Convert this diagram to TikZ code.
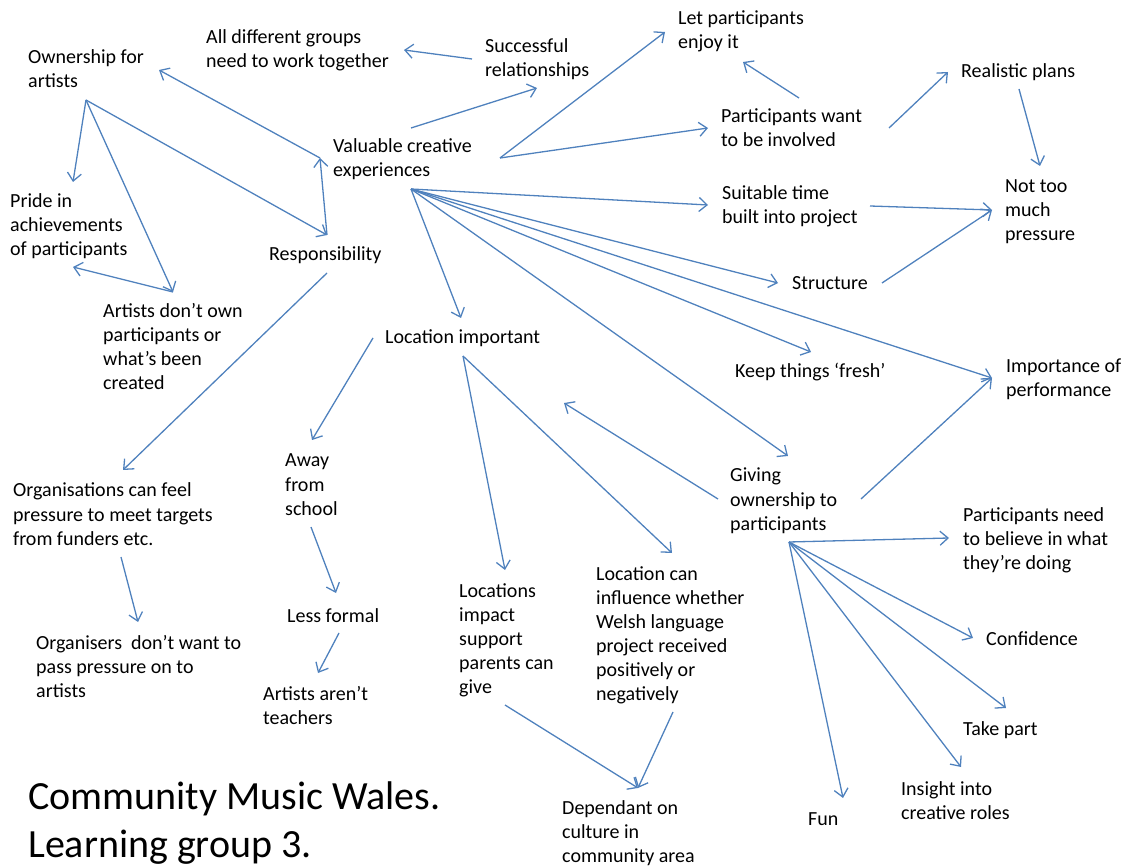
\documentclass[tikz,border=0pt]{standalone}
\usepackage{fontspec}
\setmainfont{Carlito}
\usetikzlibrary{arrows.meta}
\definecolor{linkblue}{RGB}{79,129,189}

\begin{document}
\begin{tikzpicture}[x=1pt,y=-1pt,
    link/.style={linkblue,line width=1.3pt,-{Straight Barb[length=8pt,width=14pt]}},
    idea/.style={anchor=base west,inner sep=0pt,align=left,font=\fontsize{20}{24}\selectfont}]

        \useasboundingbox (0,0) rectangle (1128,866);

        % nodes sit on the baseline of their last line
        \node[idea] (own) at (28,88) {Ownership for\\artists};
        \node[idea] (alldiff) at (206,68) {All different groups\\need to work together};
        \node[idea] (succ) at (485,77) {Successful\\relationships};
        \node[idea] (letp) at (678,49) {Let participants\\enjoy it};
        \node[idea] (real) at (961,78) {Realistic plans};
        \node[idea] (pwant) at (721,147) {Participants want\\to be involved};
        \node[idea] (vce) at (333,177) {Valuable creative\\experiences};
        \node[idea] (pride) at (10,256) {Pride in\\achievements\\of participants};
        \node[idea] (suit) at (722,224) {Suitable time\\built into project};
        \node[idea] (notoo) at (1005,241) {Not too\\much\\pressure};
        \node[idea] (resp) at (269,261) {Responsibility};
        \node[idea] (struc) at (792,290) {Structure};
        \node[idea] (adown) at (103,390) {Artists don’t own\\participants or\\what’s been\\created};
        \node[idea] (limp) at (385,344) {Location important};
        \node[idea] (fresh) at (735,378) {Keep things ‘fresh’};
        \node[idea] (perf) at (1006,397) {Importance of\\performance};
        \node[idea] (away) at (285,515) {Away\\from\\school};
        \node[idea] (give) at (730,530) {Giving\\ownership to\\participants};
        \node[idea] (orgs) at (13,545) {Organisations can feel\\pressure to meet targets\\from funders etc.};
        \node[idea] (pneed) at (963,569) {Participants need\\to believe in what\\they’re doing};
        \node[idea] (lsup) at (459,693) {Locations\\impact\\support\\parents can\\give};
        \node[idea] (lwel) at (596,700) {Location can\\influence whether\\Welsh language\\project received\\positively or\\negatively};
        \node[idea] (lessf) at (287,622) {Less formal};
        \node[idea] (conf) at (986,645) {Confidence};
        \node[idea] (orgns) at (36,697) {Organisers~ don’t want to\\pass pressure on to\\artists};
        \node[idea] (aant) at (263,724) {Artists aren’t\\teachers};
        \node[idea] (take) at (963,735) {Take part};
        \node[idea] (insight) at (901,819) {Insight into\\creative roles};
        \node[idea] (fun) at (808,825) {Fun};
        \node[idea] (dep) at (562,862) {Dependant on\\culture in\\community area};
        \node[anchor=base west,inner sep=0pt,align=left,font=\fontsize{40}{48}\selectfont]
            (title) at (28,857) {Community Music Wales.\\Learning group 3.};

        % arrow ends
        \coordinate (vceHub) at (411,189);  \coordinate (vceL) at (320,158);
        \coordinate (vceT) at (411,128);    \coordinate (vceR) at (500,158);
        \coordinate (ownHub) at (86,100);   \coordinate (ownTip) at (159,70);
        \coordinate (succL) at (472,59);    \coordinate (succTip) at (537,88);
        \coordinate (alldiffTip) at (404,50);
        \coordinate (letpTip) at (665,32);  \coordinate (letpB) at (743,62);
        \coordinate (pwantTip) at (708,128); \coordinate (pwantT) at (799,98);
        \coordinate (pwantR) at (889,128);  \coordinate (realTip) at (948,72);
        \coordinate (realB) at (1019,89);   \coordinate (notooT) at (1040,166);
        \coordinate (notooTip) at (992,210);
        \coordinate (suitTip) at (708,205); \coordinate (suitR) at (870,206);
        \coordinate (strucTip) at (778,283); \coordinate (strucR) at (882,283);
        \coordinate (prideT) at (73,182);   \coordinate (prideB) at (73,267);
        \coordinate (adownTip) at (173,292);
        \coordinate (respT) at (327,235);   \coordinate (respB) at (327,273);
        \coordinate (orgsTip) at (123,470); \coordinate (orgsB) at (121,557);
        \coordinate (orgnsTip) at (138,622);
        \coordinate (limpTip) at (461,318); \coordinate (limpL) at (373,338);
        \coordinate (limpB) at (463,356);   \coordinate (limpR) at (564,403);
        \coordinate (awayTip) at (312,440); \coordinate (awayB) at (311,527);
        \coordinate (lessfTip) at (336,593); \coordinate (lessfB) at (339,633);
        \coordinate (aantTip) at (318,673);
        \coordinate (lsupTip) at (505,570); \coordinate (lsupB) at (505,705);
        \coordinate (lwelTip) at (672,553); \coordinate (lwelB) at (673,712);
        \coordinate (depTip) at (638,788);
        \coordinate (freshTip) at (811,352); \coordinate (perfTip) at (992,378);
        \coordinate (giveTip) at (788,456);  \coordinate (giveL) at (718,499);
        \coordinate (giveR) at (861,499);    \coordinate (giveHub) at (789,542);
        \coordinate (pneedTip) at (949,538); \coordinate (confTip) at (973,638);
        \coordinate (takeTip) at (1006,708); \coordinate (insightTip) at (961,767);
        \coordinate (funTip) at (843,798);

        \draw[link] (succL) -- (alldiffTip);
        \draw[link] (vceL) -- (ownTip);
        \draw[link] (vceT) -- (succTip);
        \draw[link] (vceR) -- (letpTip);
        \draw[link] (vceR) -- (pwantTip);
        \draw[link] (pwantT) -- (letpB);
        \draw[link] (pwantR) -- (realTip);
        \draw[link] (realB) -- (notooT);
        \draw[link] (suitR) -- (notooTip);
        \draw[link] (strucR) -- (notooTip);
        \draw[link,{Straight Barb[length=8pt,width=14pt]}-] (vceL) -- (respT);
        \foreach \t in {prideT,respT,adownTip} \draw[link] (ownHub) -- (\t);
        \draw[link] (adownTip) -- (prideB);
        \draw[link] (respB) -- (orgsTip);
        \draw[link] (orgsB) -- (orgnsTip);
        \foreach \t in {suitTip,strucTip,freshTip,perfTip,giveTip,limpTip} \draw[link] (vceHub) -- (\t);
        \draw[link] (limpL) -- (awayTip);
        \draw[link] (awayB) -- (lessfTip);
        \draw[link] (lessfB) -- (aantTip);
        \draw[link] (limpB) -- (lsupTip);
        \draw[link] (limpB) -- (lwelTip);
        \draw[link] (lsupB) -- (depTip);
        \draw[link] (lwelB) -- (depTip);
        \draw[link] (giveL) -- (limpR);
        \draw[link] (giveR) -- (perfTip);
        \foreach \t in {pneedTip,confTip,takeTip,insightTip,funTip} \draw[link] (giveHub) -- (\t);

\end{tikzpicture}
\end{document}
